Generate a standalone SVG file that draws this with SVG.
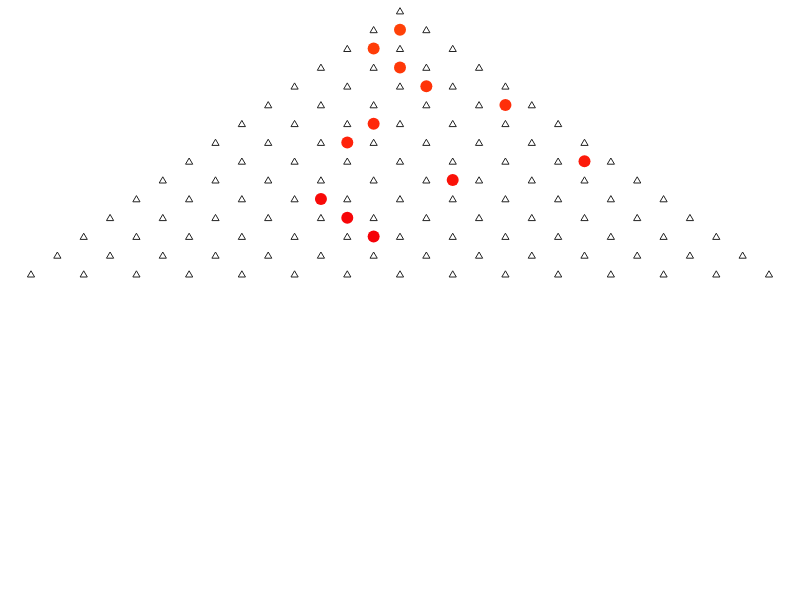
<svg xmlns="http://www.w3.org/2000/svg" xmlns:xlink="http://www.w3.org/1999/xlink" width="800" height="600" viewBox="0 0 800 600">
<defs>
<style>
.tri{fill:#fff;stroke:#222;stroke-width:1;stroke-linejoin:miter}
</style>
<path id="t" class="tri" d="M0,-3.3 L3.6,2.9 L-3.6,2.9 Z"/>
</defs>
<rect width="800" height="600" fill="#fff"/>
<g id="lattice">
<g id="row0" transform="translate(0,11)"><use href="#t" x="400"/></g>
<g id="row1" transform="translate(0,29.8)"><use href="#t" x="373.64"/><use href="#t" x="426.36"/></g>
<g id="row2" transform="translate(0,48.6)"><use href="#t" x="347.29"/><use href="#t" x="400"/><use href="#t" x="452.71"/></g>
<g id="row3" transform="translate(0,67.4)"><use href="#t" x="320.93"/><use href="#t" x="373.64"/><use href="#t" x="426.36"/><use href="#t" x="479.07"/></g>
<g id="row4" transform="translate(0,86.2)"><use href="#t" x="294.57"/><use href="#t" x="347.29"/><use href="#t" x="400"/><use href="#t" x="452.71"/><use href="#t" x="505.43"/></g>
<g id="row5" transform="translate(0,104.9)"><use href="#t" x="268.21"/><use href="#t" x="320.93"/><use href="#t" x="373.64"/><use href="#t" x="426.36"/><use href="#t" x="479.07"/><use href="#t" x="531.79"/></g>
<g id="row6" transform="translate(0,123.7)"><use href="#t" x="241.86"/><use href="#t" x="294.57"/><use href="#t" x="347.29"/><use href="#t" x="400"/><use href="#t" x="452.71"/><use href="#t" x="505.43"/><use href="#t" x="558.14"/></g>
<g id="row7" transform="translate(0,142.5)"><use href="#t" x="215.5"/><use href="#t" x="268.21"/><use href="#t" x="320.93"/><use href="#t" x="373.64"/><use href="#t" x="426.36"/><use href="#t" x="479.07"/><use href="#t" x="531.79"/><use href="#t" x="584.5"/></g>
<g id="row8" transform="translate(0,161.3)"><use href="#t" x="189.14"/><use href="#t" x="241.86"/><use href="#t" x="294.57"/><use href="#t" x="347.29"/><use href="#t" x="400"/><use href="#t" x="452.71"/><use href="#t" x="505.43"/><use href="#t" x="558.14"/><use href="#t" x="610.86"/></g>
<g id="row9" transform="translate(0,180.1)"><use href="#t" x="162.79"/><use href="#t" x="215.5"/><use href="#t" x="268.21"/><use href="#t" x="320.93"/><use href="#t" x="373.64"/><use href="#t" x="426.36"/><use href="#t" x="479.07"/><use href="#t" x="531.79"/><use href="#t" x="584.5"/><use href="#t" x="637.21"/></g>
<g id="row10" transform="translate(0,198.9)"><use href="#t" x="136.43"/><use href="#t" x="189.14"/><use href="#t" x="241.86"/><use href="#t" x="294.57"/><use href="#t" x="347.29"/><use href="#t" x="400"/><use href="#t" x="452.71"/><use href="#t" x="505.43"/><use href="#t" x="558.14"/><use href="#t" x="610.86"/><use href="#t" x="663.57"/></g>
<g id="row11" transform="translate(0,217.7)"><use href="#t" x="110.07"/><use href="#t" x="162.79"/><use href="#t" x="215.5"/><use href="#t" x="268.21"/><use href="#t" x="320.93"/><use href="#t" x="373.64"/><use href="#t" x="426.36"/><use href="#t" x="479.07"/><use href="#t" x="531.79"/><use href="#t" x="584.5"/><use href="#t" x="637.21"/><use href="#t" x="689.93"/></g>
<g id="row12" transform="translate(0,236.5)"><use href="#t" x="83.71"/><use href="#t" x="136.43"/><use href="#t" x="189.14"/><use href="#t" x="241.86"/><use href="#t" x="294.57"/><use href="#t" x="347.29"/><use href="#t" x="400"/><use href="#t" x="452.71"/><use href="#t" x="505.43"/><use href="#t" x="558.14"/><use href="#t" x="610.86"/><use href="#t" x="663.57"/><use href="#t" x="716.29"/></g>
<g id="row13" transform="translate(0,255.3)"><use href="#t" x="57.36"/><use href="#t" x="110.07"/><use href="#t" x="162.79"/><use href="#t" x="215.5"/><use href="#t" x="268.21"/><use href="#t" x="320.93"/><use href="#t" x="373.64"/><use href="#t" x="426.36"/><use href="#t" x="479.07"/><use href="#t" x="531.79"/><use href="#t" x="584.5"/><use href="#t" x="637.21"/><use href="#t" x="689.93"/><use href="#t" x="742.64"/></g>
<g id="row14" transform="translate(0,274.1)"><use href="#t" x="31"/><use href="#t" x="83.71"/><use href="#t" x="136.43"/><use href="#t" x="189.14"/><use href="#t" x="241.86"/><use href="#t" x="294.57"/><use href="#t" x="347.29"/><use href="#t" x="400"/><use href="#t" x="452.71"/><use href="#t" x="505.43"/><use href="#t" x="558.14"/><use href="#t" x="610.86"/><use href="#t" x="663.57"/><use href="#t" x="716.29"/><use href="#t" x="769"/></g>
</g>
<g id="dots">
<circle id="d1" cx="400" cy="29.8" r="6" fill="#ff4108"/>
<circle id="d2" cx="373.64" cy="48.6" r="6" fill="#ff3d08"/>
<circle id="d3" cx="400" cy="67.4" r="6" fill="#ff3808"/>
<circle id="d4" cx="426.36" cy="86.2" r="6" fill="#ff3308"/>
<circle id="d5" cx="505.43" cy="104.9" r="6" fill="#ff2e0a"/>
<circle id="d6" cx="373.64" cy="123.7" r="6" fill="#ff280a"/>
<circle id="d7" cx="347.29" cy="142.5" r="6" fill="#ff220a"/>
<circle id="d8" cx="584.5" cy="161.3" r="6" fill="#fc1a0a"/>
<circle id="d9" cx="452.71" cy="180.1" r="6" fill="#fa1208"/>
<circle id="d10" cx="320.93" cy="198.9" r="6" fill="#f80a08"/>
<circle id="d11" cx="347.29" cy="217.7" r="6" fill="#f70508"/>
<circle id="d12" cx="373.64" cy="236.5" r="6" fill="#f50208"/>
</g>
</svg>
